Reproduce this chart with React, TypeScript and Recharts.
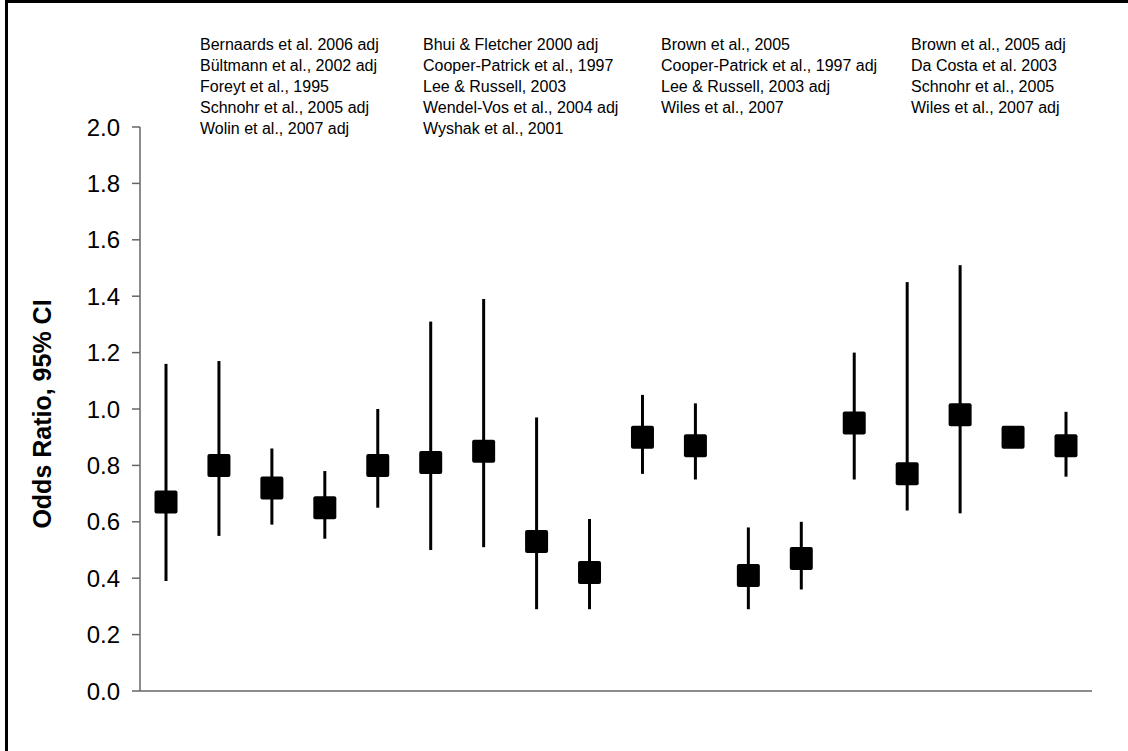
import {
  ComposedChart,
  Scatter,
  ErrorBar,
  XAxis,
  YAxis,
} from 'recharts';

const STUDIES = [
  'Bernaards et al. 2006 adj',
  'Bültmann et al., 2002 adj',
  'Foreyt et al., 1995',
  'Schnohr et al., 2005 adj',
  'Wolin et al., 2007 adj',
  'Bhui & Fletcher 2000 adj',
  'Cooper-Patrick et al., 1997',
  'Lee & Russell, 2003',
  'Wendel-Vos et al., 2004 adj',
  'Wyshak et al., 2001',
  'Brown et al., 2005',
  'Cooper-Patrick et al., 1997 adj',
  'Lee & Russell, 2003 adj',
  'Wiles et al., 2007',
  'Brown et al., 2005 adj',
  'Da Costa et al. 2003',
  'Schnohr et al., 2005',
  'Wiles et al., 2007 adj',
];

const ODDS = [0.67, 0.8, 0.72, 0.65, 0.8, 0.81, 0.85, 0.53, 0.42, 0.9, 0.87, 0.41, 0.47, 0.95, 0.77, 0.98, 0.9, 0.87];
const CI_LOW = [0.39, 0.55, 0.59, 0.54, 0.65, 0.5, 0.51, 0.29, 0.29, 0.77, 0.75, 0.29, 0.36, 0.75, 0.64, 0.63, 0.87, 0.76];
const CI_HIGH = [1.16, 1.17, 0.86, 0.78, 1.0, 1.31, 1.39, 0.97, 0.61, 1.05, 1.02, 0.58, 0.6, 1.2, 1.45, 1.51, 0.93, 0.99];

const Y_TICKS = [0, 0.2, 0.4, 0.6, 0.8, 1.0, 1.2, 1.4, 1.6, 1.8, 2.0];

// study names listed above the plot, one column per group
const COLUMN_SPLITS = [0, 5, 10, 14, 18];

const data = STUDIES.map((name, i) => ({
  name,
  or: ODDS[i],
  err: [ODDS[i] - CI_LOW[i], CI_HIGH[i] - ODDS[i]],
}));

const FONT = '"Liberation Sans", Arial, sans-serif';
const AXIS_GRAY = '#666';

const colX = [200, 423, 661, 911];

function Square(props: any) {
  const { cx, cy } = props;
  const s = 23;
  return <rect x={cx - s / 2} y={cy - s / 2} width={s} height={s} rx={2} fill='#000' />;
}

export default function App() {
  return (
    <div style={{ position: 'absolute', left: 0, top: 0, width: 1128, height: 751, background: '#fff' }}>
      <ComposedChart
        width={1128}
        height={751}
        data={data}
        margin={{ top: 127, right: 36, bottom: 59, left: 80 }}
        style={{ position: 'absolute', left: 0, top: 0 }}
      >
        <XAxis
          dataKey='name'
          type='category'
          tick={false}
          tickLine={false}
          height={1}
          padding={{ left: 26, right: 26 }}
          axisLine={{ stroke: AXIS_GRAY, strokeWidth: 1.5 }}
        />
        <YAxis
          type='number'
          domain={[0, 2]}
          ticks={Y_TICKS}
          width={60}
          tickFormatter={(v: number) => v.toFixed(1)}
          tickSize={8}
          tickMargin={12}
          axisLine={{ stroke: AXIS_GRAY, strokeWidth: 1.5 }}
          tickLine={{ stroke: AXIS_GRAY, strokeWidth: 1.5 }}
          tick={{ fill: '#000', fontSize: 24, fontFamily: FONT }}
        />
        <Scatter dataKey='or' shape={Square} isAnimationActive={false}>
          <ErrorBar dataKey='err' direction='y' width={0} stroke='#000' strokeWidth={3} />
        </Scatter>
      </ComposedChart>
      <svg
        width={1128}
        height={751}
        style={{ position: 'absolute', left: 0, top: 0, pointerEvents: 'none' }}
      >
        <line x1={5} y1={1.5} x2={1128} y2={1.5} stroke='#000' strokeWidth={3} />
        <line x1={6.5} y1={0} x2={6.5} y2={751} stroke='#000' strokeWidth={3} />
        {colX.map((x, c) =>
          STUDIES.slice(COLUMN_SPLITS[c], COLUMN_SPLITS[c + 1]).map((s, r) => (
            <text
              key={s}
              x={x}
              y={50 + r * 21}
              fontSize={16}
              fontFamily={FONT}
              fill='#000'
            >
              {s}
            </text>
          ))
        )}
        <text
          transform='translate(42,414) rotate(-90)'
          textAnchor='middle'
          dominantBaseline='central'
          fontSize={25}
          fontWeight='bold'
          fontFamily={FONT}
          fill='#000'
        >
          Odds Ratio, 95% CI
        </text>
      </svg>
    </div>
  );
}
